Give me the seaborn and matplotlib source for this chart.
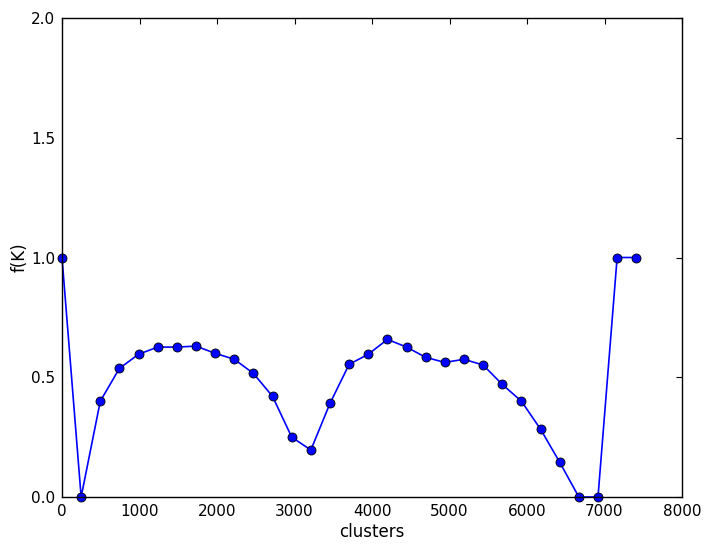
import pandas as pd
import matplotlib
matplotlib.use("Agg")
import matplotlib.pyplot as plt
import seaborn as sns

# values
clusters = [0, 247, 494, 741, 988, 1235, 1482, 1729, 1976, 2223,
            2470, 2717, 2964, 3211, 3458, 3705, 3952, 4199, 4446, 4693,
            4940, 5187, 5434, 5681, 5928, 6175, 6422, 6669, 6916, 7163, 7410]
f_k = [1.0, 0.0, 0.40, 0.537, 0.596, 0.626, 0.626, 0.630, 0.600, 0.575,
       0.516, 0.420, 0.250, 0.196, 0.391, 0.554, 0.596, 0.658, 0.626, 0.583,
       0.562, 0.575, 0.551, 0.470, 0.400, 0.283, 0.145, 0.0, 0.0, 1.0, 1.0]

df = pd.DataFrame({'clusters': clusters, 'f(K)': f_k})

sns.set_style('white')
plt.rcParams['font.family'] = ['DejaVu Sans']

fig = plt.figure(figsize=(7.11, 5.5), dpi=100)
ax = fig.add_axes([62 / 711, 1 - 497 / 550, 620 / 711, 479 / 550])

sns.lineplot(data=df, x='clusters', y='f(K)', ax=ax, color='blue',
             marker='o', markersize=6.5, markeredgecolor='black',
             markeredgewidth=0.6, linewidth=1.2, clip_on=False)

ax.set_xlim(0, 8000)
ax.set_ylim(0, 2.0)
ax.set_xticks(range(0, 8001, 1000))
ax.set_yticks([0.0, 0.5, 1.0, 1.5, 2.0])
ax.set_yticklabels(['0.0', '0.5', '1.0', '1.5', '2.0'])
ax.set_xlabel('clusters', fontsize=12, labelpad=3, color='black')
ax.set_ylabel('f(K)', fontsize=12, labelpad=2, color='black')

ax.tick_params(direction='in', length=4, width=0.8, top=True, right=True,
               labelsize=11, colors='black', pad=5)
for sp in ax.spines.values():
    sp.set_color('black')
    sp.set_linewidth(1.0)

fig.savefig('out.png', dpi=100)
